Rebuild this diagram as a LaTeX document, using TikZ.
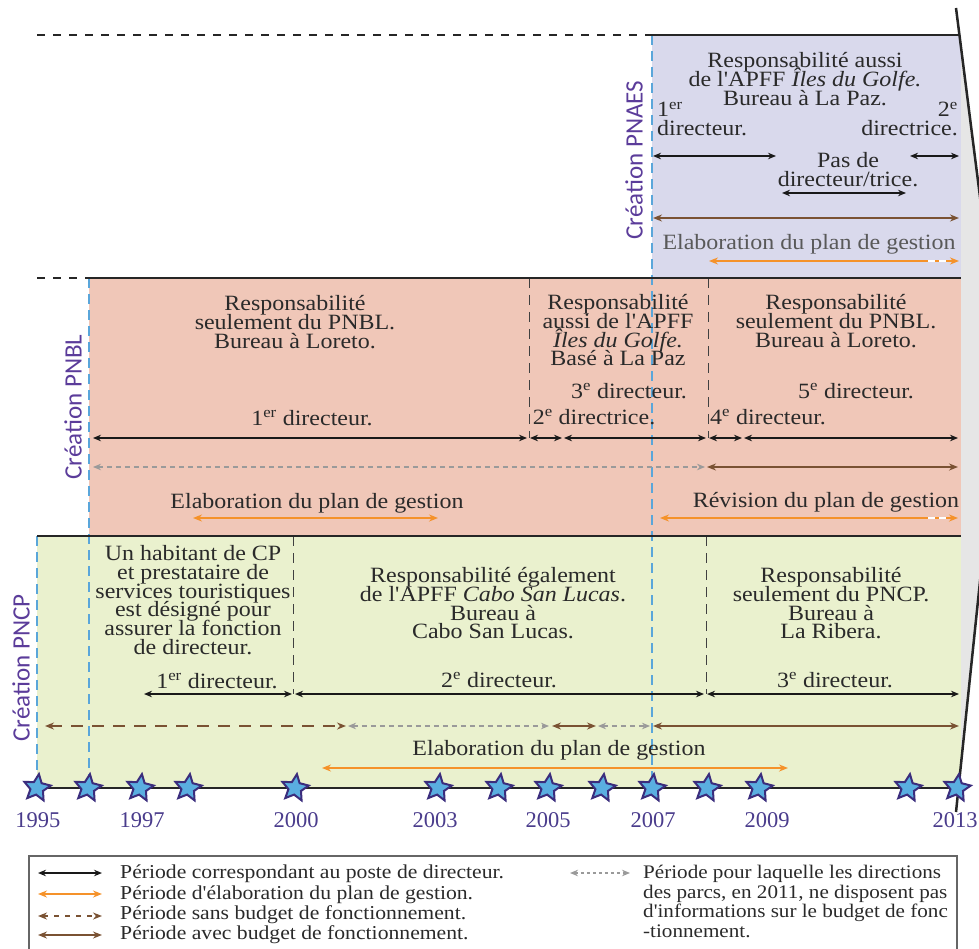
\documentclass[tikz,border=0pt]{standalone}
\usepackage{fontspec}
\setmainfont{Liberation Serif}[FakeStretch=1.1, Ligatures=TeXOff]
\newfontfamily\yearfont{Liberation Serif}
\newfontfamily\crfont{Carlito}
\usetikzlibrary{arrows.meta,shapes.geometric}
\definecolor{lav}{HTML}{D9D9EC}
\definecolor{salmon}{HTML}{F0C7B8}
\definecolor{lgreen}{HTML}{EAF1CE}
\definecolor{gright}{HTML}{E6E6E6}
\definecolor{purp}{HTML}{5B3C9A}
\definecolor{ytxt}{HTML}{4A3C8C}
\definecolor{starfill}{HTML}{5AAEE0}
\definecolor{starline}{HTML}{3B2D7D}
\definecolor{bluedash}{HTML}{5AA6DA}
\definecolor{orng}{HTML}{F5922A}
\definecolor{brn}{HTML}{7A5233}
\definecolor{gdash}{HTML}{9A9A9A}
\definecolor{txt}{HTML}{2A2A2A}
\newcommand{\tlarr}[5]{\coordinate (#2a) at (#3,#5); \coordinate (#2b) at (#4,#5); \draw[#1] (#2a) -- (#2b);}
\newcommand{\mainsz}{\fontsize{21.8}{18.8}\selectfont\lineskiplimit-50pt\relax}
\newcommand{\legsz}{\fontsize{19.7}{20}\selectfont\lineskiplimit-50pt\relax}
\newcommand{\legszb}{\fontsize{19.2}{19.5}\selectfont\lineskiplimit-50pt\relax}
\begin{document}
\begin{tikzpicture}[x=1pt,y=-1pt,
  mtext/.style={inner sep=0pt, text=txt, align=center, font=\mainsz},
  ltext/.style={inner sep=0pt, text=txt, anchor=base west, align=left, font=\legsz},
  yearlab/.style={inner sep=0pt, anchor=base, text=ytxt, font=\yearfont\fontsize{22.5}{22.5}\selectfont},
  crlab/.style={inner sep=0pt, rotate=90, text=purp, font=\crfont\fontsize{25}{25}\selectfont},
  starnode/.style={star, star points=5, star point ratio=2.1, minimum size=28pt, inner sep=0pt, fill=starfill, draw=starline, line width=2pt, rotate=-8},
  boxline/.style={line width=2.5pt, black!85},
  topdash/.style={line width=2.5pt, black!85, dash pattern=on 8pt off 8pt},
  bluedashed/.style={line width=1.6pt, bluedash, dash pattern=on 10pt off 6pt},
  sepdash/.style={line width=1pt, black!75, dash pattern=on 10pt off 7pt},
  dirarr/.style={line width=1.6pt, black!90, >={Stealth[length=8pt,width=6.5pt]}, <->},
  orarr/.style={line width=2pt, orng, >={Stealth[length=9pt,width=7pt]}, <->},
  brarr/.style={line width=2pt, brn, >={Stealth[length=9pt,width=7pt]}, <->},
  grarr/.style={line width=1.6pt, gdash, dash pattern=on 5pt off 4pt, >={Stealth[length=8pt,width=6.5pt]}, <->},
  brdash/.style={line width=2pt, brn, dash pattern=on 12pt off 9pt, >={Stealth[length=9pt,width=7pt]}, <->},
  whdash/.style={line width=2.2pt, white, dash pattern=on 7pt off 4pt}
]
\useasboundingbox (0,0) rectangle (979,949);
\clip (0,0) rectangle (979,949);

% right gray region
\fill[gright] (959,35) -- (1002,370) -- (961,764) -- (961,35) -- cycle;

% boxes
\fill[lav] (652,35) rectangle (961,278);
\fill[salmon] (89,278) rectangle (961,536);
\fill[lgreen] (37,536) rectangle (961,788);

% blue dashed creation lines
\draw[bluedashed] (652,35) -- (652,788);
\draw[bluedashed] (89,278) -- (89,788);
\draw[bluedashed] (37,536) -- (37,788);

% inner separators
\draw[sepdash] (529,278) -- (529,438);
\draw[sepdash] (708,278) -- (708,438);
\draw[sepdash] (293,536) -- (293,694);
\draw[sepdash] (706,536) -- (706,694);

% borders
\draw[topdash] (37,35) -- (652,35);
\draw[boxline] (652,35) -- (960,35);
\draw[topdash] (37,278) -- (89,278);
\draw[boxline] (89,278) -- (961,278);
\draw[boxline] (37,536) -- (961,536);
\draw[boxline] (37,788) -- (958,788);

% bracket line on the right
\draw[line width=2.5pt, black!85] (956,8) -- (1002,370) -- (956,812);

% creation labels
\node[crlab] (cPNAES) at (634,160) {Création PNAES};
\node[crlab] (cPNBL) at (73,407) {Création PNBL};
\node[crlab] (cPNCP) at (21,668) {Création PNCP};

% ===== PNAES =====
\node[mtext, anchor=north] (a1) at (805,52.2) {Responsabilité aussi\\de l'APFF \textit{Îles du Golfe.}\\Bureau à La Paz.};
\node[mtext, anchor=north west, align=left] (a2) at (657,102) {1\textsuperscript{er}\\directeur.};
\node[mtext, anchor=north east, align=right] (a3) at (958,102) {2\textsuperscript{e}\\directrice.};
\node[mtext, anchor=north] (a4) at (848,152.2) {Pas de\\directeur/trice.};
\node[mtext, anchor=base, text=black!65] (a5) at (809,250) {Elaboration du plan de gestion};
\tlarr{dirarr}{pa1}{653}{776}{156}
\tlarr{dirarr}{pa2}{782}{906}{193}
\tlarr{dirarr}{pa3}{910}{959}{156}
\tlarr{brarr}{pa4}{653}{959}{218}
\tlarr{orarr}{pa5}{709}{959}{261}
\draw[whdash] (928,261) -- (946,261);

% ===== PNBL =====
\node[mtext, anchor=north] (b1) at (295,295.2) {Responsabilité\\seulement du PNBL.\\Bureau à Loreto.};
\node[mtext, anchor=base] (b2) at (312,425) {1\textsuperscript{er} directeur.};
\node[mtext, anchor=north] (b3) at (618,294.2) {Responsabilité\\aussi de l'APFF\\\textit{Îles du Golfe.}\\Basé à La Paz};
\node[mtext, anchor=base] (b4) at (629,398) {3\textsuperscript{e} directeur.};
\node[mtext, anchor=base] (b5) at (594,424) {2\textsuperscript{e} directrice.};
\node[mtext, anchor=base] (b6) at (768,424) {4\textsuperscript{e} directeur.};
\node[mtext, anchor=base] (b7) at (856,398) {5\textsuperscript{e} directeur.};
\node[mtext, anchor=north] (b8) at (836,294.2) {Responsabilité\\seulement du PNBL.\\Bureau à Loreto.};
\node[mtext, anchor=base] (b9) at (317,508) {Elaboration du plan de gestion};
\node[mtext, anchor=base] (b10) at (826,507) {Révision du plan de gestion};
\tlarr{dirarr}{pb1}{93}{527}{438}
\tlarr{dirarr}{pb2}{530}{562}{438}
\tlarr{dirarr}{pb3}{564}{706}{438}
\tlarr{dirarr}{pb4}{709}{742}{438}
\tlarr{dirarr}{pb5}{744}{958}{438}
\tlarr{grarr}{pb6}{93}{705}{467}
\tlarr{brarr}{pb7}{707}{958}{467}
\tlarr{orarr}{pb8}{193}{438}{518}
\tlarr{orarr}{pb9}{660}{958}{518}
\draw[whdash] (928,518) -- (946,518);

% ===== PNCP =====
\node[mtext, anchor=north] (c1) at (193,545.2) {Un habitant de CP\\et prestataire de\\services touristiques\\est désigné pour\\assurer la fonction\\de directeur.};
\node[mtext, anchor=base] (c2) at (217,688) {1\textsuperscript{er} directeur.};
\node[mtext, anchor=north] (c3) at (493,567.2) {Responsabilité également\\de l'APFF \textit{Cabo San Lucas}.\\Bureau à\\Cabo San Lucas.};
\node[mtext, anchor=base] (c4) at (499,687) {2\textsuperscript{e} directeur.};
\node[mtext, anchor=north] (c5) at (831,567.2) {Responsabilité\\seulement du PNCP.\\Bureau à\\La Ribera.};
\node[mtext, anchor=base] (c6) at (835,687) {3\textsuperscript{e} directeur.};
\node[mtext, anchor=base] (c7) at (559,755) {Elaboration du plan de gestion};
\tlarr{dirarr}{pc1}{144}{292}{694}
\tlarr{dirarr}{pc2}{295}{704}{694}
\tlarr{dirarr}{pc3}{707}{959}{694}
\tlarr{brdash}{pc4}{45}{346}{726}
\tlarr{grarr}{pc5}{348}{549}{726}
\tlarr{brarr}{pc6}{552}{596}{726}
\tlarr{grarr}{pc7}{598}{650}{726}
\tlarr{brarr}{pc8}{653}{959}{726}
\tlarr{orarr}{pc9}{322}{788}{768}

% ===== stars & years =====
\foreach \n/\x in {s1995/37, s1996/88, s1997/140, s1998/188, s2000/295, s2003/438, s2004/499, s2005/548, s2006/602, s2007/652, s2008/707, s2009/759, s2012/908, s2013/957}
  \node[starnode] (\n) at (\x,788) {};
\foreach \n/\x/\t in {y1995/38/1995, y1997/142/1997, y2000/296/2000, y2003/435/2003, y2005/548/2005, y2007/653/2007, y2009/767/2009, y2013/955/2013}
  \node[yearlab] (\n) at (\x,827) {\t};

% ===== legend =====
\draw[line width=1.3pt, black!60] (29,856) rectangle (957,965);
\tlarr{dirarr, line width=2.2pt}{l1}{38}{102}{873}
\tlarr{orarr, line width=2.4pt}{l2}{38}{102}{894}
\tlarr{brdash, line width=1.8pt, dash pattern=on 5pt off 6pt}{l3}{38}{102}{916}
\tlarr{brarr, line width=2.4pt}{l4}{38}{102}{935}
\tlarr{grarr, dash pattern=on 3pt off 3pt}{l5}{570}{630}{873}
\node[ltext] (lt1) at (120,878.5) {Période correspondant au poste de directeur.};
\node[ltext] (lt2) at (120,899) {Période d'élaboration du plan de gestion.};
\node[ltext] (lt3) at (120,919) {Période sans budget de fonctionnement.};
\node[ltext] (lt4) at (120,939.5) {Période avec budget de fonctionnement.};
\node[ltext, anchor=north west, font=\legszb] (lt5) at (643,865) {Période pour laquelle les directions\\des parcs, en 2011, ne disposent pas\\d'informations sur le budget de fonc\\-tionnement.};
\end{tikzpicture}
\end{document}
